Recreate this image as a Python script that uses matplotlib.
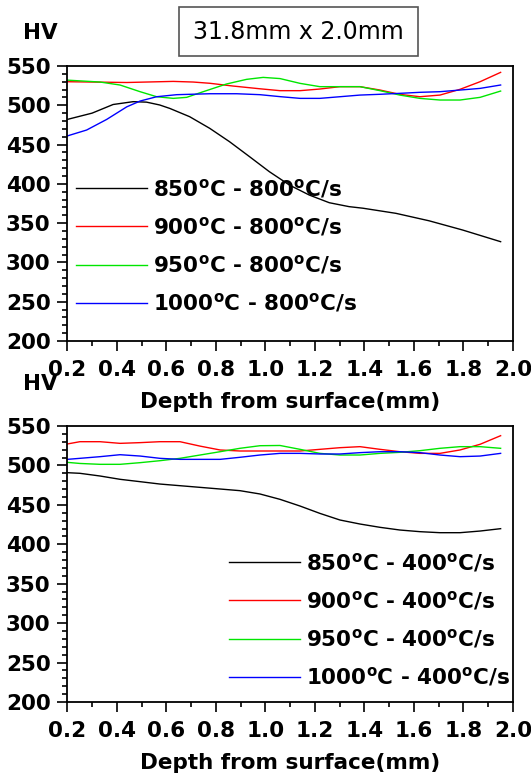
import numpy as np
import matplotlib
matplotlib.use('Agg')
import matplotlib.pyplot as plt
from matplotlib.ticker import MultipleLocator
from matplotlib.lines import Line2D
from matplotlib.patches import Rectangle

plt.rcParams['font.family'] = 'DejaVu Sans'
plt.rcParams['mathtext.fontset'] = 'dejavusans'

# ---- top panel: 800 C/s, depth (mm) / hardness (HV) ----
x_850_800 = [0.2, 0.3, 0.385, 0.466, 0.52, 0.573, 0.614, 0.694, 0.775, 0.855, 0.936, 1.016, 1.097,
             1.177, 1.258, 1.338, 1.394, 1.527, 1.661, 1.796, 1.95]
hv_850_800 = [482, 490, 501, 504.6, 504, 500.4, 496, 485.5, 470.7, 453.7, 434.6, 415.5, 398.5,
              385.8, 376, 371, 369, 362.5, 353, 341.3, 326.4]

x_900_800 = [0.2, 0.44, 0.628, 0.708, 0.776, 0.869, 0.978, 1.059, 1.14, 1.22, 1.301, 1.382, 1.463,
             1.543, 1.624, 1.705, 1.786, 1.867, 1.95]
hv_900_800 = [530, 529, 530.4, 529.6, 528, 524.5, 521, 518.6, 518.6, 520.7, 523.7, 523.7, 519.4,
              513.9, 510.9, 513, 520.3, 530, 541.9]

x_950_800 = [0.2, 0.332, 0.413, 0.494, 0.561, 0.628, 0.682, 0.749, 0.843, 0.924, 0.991, 1.059, 1.14,
             1.22, 1.301, 1.382, 1.463, 1.543, 1.624, 1.705, 1.786, 1.867, 1.95]
hv_950_800 = [532, 529.6, 525.8, 517.3, 510.9, 508.8, 510.1, 517.3, 527.1, 533, 535.5, 534, 527.9,
              523.7, 523.7, 523.7, 518.6, 513, 508.8, 506.7, 506.7, 510.1, 518.1]

x_1000_800 = [0.2, 0.278, 0.359, 0.44, 0.494, 0.561, 0.642, 0.776, 0.884, 0.978, 1.059, 1.14, 1.22,
              1.301, 1.382, 1.463, 1.543, 1.624, 1.705, 1.786, 1.867, 1.95]
hv_1000_800 = [461, 468.5, 482, 498, 505.4, 510.9, 513.5, 514.7, 514.7, 513.5, 511, 508.8, 508.8,
               510.9, 513, 514, 515.2, 516.5, 517.3, 519.4, 521.5, 525.8]

# ---- bottom panel: 400 C/s ----
x_400 = [0.2, 0.251, 0.332, 0.413, 0.494, 0.574, 0.655, 0.736, 0.817, 0.897, 0.978, 1.059, 1.14,
         1.22, 1.301, 1.382, 1.463, 1.543, 1.624, 1.705, 1.786, 1.867, 1.95]
hv_850_400 = [490.8, 490, 486.6, 482.4, 479.4, 476.4, 474.3, 472.2, 470.1, 468, 463.8, 457, 448.5,
              439.2, 430.8, 425.7, 421.5, 418.1, 416, 414.7, 414.7, 416.8, 419.8]
hv_900_400 = [527.2, 530.1, 530.1, 528, 528.9, 530.1, 530.1, 524.5, 519.6, 518.3, 518.3, 518.3, 518.3,
              520.4, 522.5, 523.8, 520.4, 517.4, 515.3, 515.3, 519.6, 526.8, 537.7]
hv_950_400 = [503.9, 502.5, 501.4, 501.4, 503.5, 506, 509, 513.2, 517.4, 521.7, 525, 525.3, 520.4,
              515.3, 513.2, 513.2, 515.3, 516.6, 518.7, 521.7, 523.8, 523.8, 521.7]
hv_1000_400 = [507.7, 509, 511.1, 513.6, 511.9, 509, 507.7, 507.7, 507.7, 510.3, 513.2, 515.3, 515.3,
               514.5, 514.5, 516.2, 517.4, 517.4, 516.2, 513.2, 511.1, 511.9, 515.3]

temps = ['850', '900', '950', '1000']
colors = ['black', '#ff0000', '#00e600', '#0000ff']

W, H = 531, 776
fig = plt.figure(figsize=(W / 100, H / 100), dpi=100)

tick_fs = 15.5
ax_left, ax_right = 67.3, 513


def style_axes(ax):
    ax.set_xlim(0.2, 2.0)
    ax.set_ylim(200, 550)
    ax.xaxis.set_minor_locator(MultipleLocator(0.1))
    ax.yaxis.set_major_locator(MultipleLocator(50))
    ax.yaxis.set_minor_locator(MultipleLocator(10))
    ax.tick_params(which='both', direction='out', top=False, right=False, width=1.2)
    ax.tick_params(which='major', length=7, labelsize=tick_fs)
    ax.tick_params(axis='x', which='major', pad=6.5)
    ax.tick_params(axis='y', which='major', pad=5)
    ax.tick_params(which='minor', length=3.5)
    xt = np.arange(0.2, 2.01, 0.2)
    ax.set_xticks(xt)
    ax.set_xticklabels(['%.1f' % v for v in xt], fontweight='bold', fontsize=tick_fs)
    for lab in ax.get_yticklabels():
        lab.set_fontweight('bold')
    for s in ax.spines.values():
        s.set_linewidth(1.3)
    ax.set_xlabel('Depth from surface(mm)', fontsize=tick_fs, fontweight='bold', labelpad=9)


def add_legend(series_labels, x0, ytop):
    handles = [Line2D([], [], color=c, lw=1.0) for c in colors]
    fig.legend(handles, series_labels, loc='upper left',
               bbox_to_anchor=(x0 / W, 1 - ytop / H), bbox_transform=fig.transFigure,
               frameon=False, borderpad=0, borderaxespad=0,
               handlelength=3.3, handletextpad=0.3, labelspacing=0.7,
               prop={'weight': 'bold', 'size': tick_fs})


# top panel
ax1 = fig.add_axes([ax_left / W, 1 - 341 / H, (ax_right - ax_left) / W, 275 / H])
for xs, hv, c in zip([x_850_800, x_900_800, x_950_800, x_1000_800],
                     [hv_850_800, hv_900_800, hv_950_800, hv_1000_800], colors):
    ax1.plot(xs, hv, color=c, lw=1.0)
style_axes(ax1)
labels_800 = [r'%s$^{\mathbf{o}}$C - 800$^{\mathbf{o}}$C/s' % t for t in temps]
add_legend(labels_800, 75.5, 177)

# bottom panel
ax2 = fig.add_axes([ax_left / W, 1 - 702 / H, (ax_right - ax_left) / W, 276 / H])
for hv, c in zip([hv_850_400, hv_900_400, hv_950_400, hv_1000_400], colors):
    ax2.plot(x_400, hv, color=c, lw=1.0)
style_axes(ax2)
labels_400 = [r'%s$^{\mathbf{o}}$C - 400$^{\mathbf{o}}$C/s' % t for t in temps]
add_legend(labels_400, 228.5, 551)

# HV labels
fig.text(40 / W, 1 - 33 / H, 'HV', ha='center', va='center', fontsize=tick_fs, fontweight='bold')
fig.text(40 / W, 1 - 384 / H, 'HV', ha='center', va='center', fontsize=tick_fs, fontweight='bold')

# title box
fig.patches.append(Rectangle((179 / W, 1 - 56 / H), 239 / W, 49 / H, transform=fig.transFigure,
                             facecolor='white', edgecolor='#555555', lw=1.2))
fig.text(298 / W, 1 - 32 / H, '31.8mm x 2.0mm', ha='center', va='center', fontsize=17)

fig.savefig('out.png', dpi=100)
